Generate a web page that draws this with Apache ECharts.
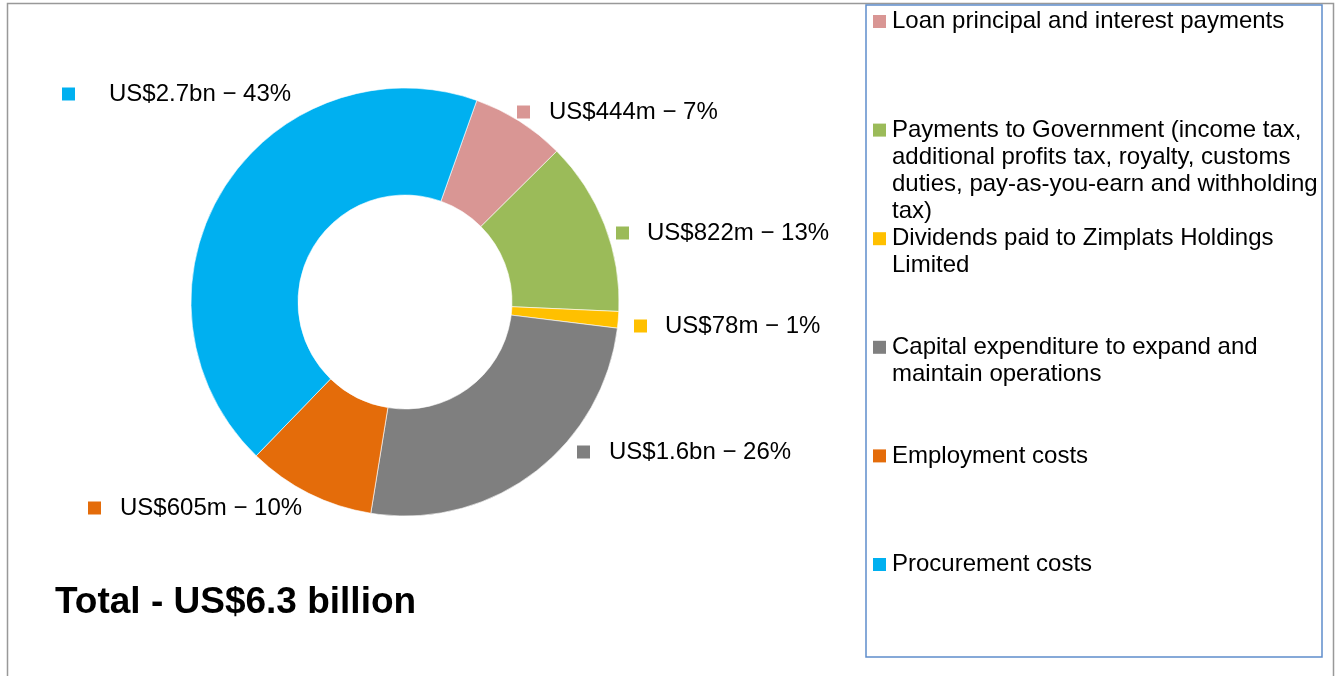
<!DOCTYPE html>
<html>
<head>
<meta charset="utf-8">
<script src="https://cdn.jsdelivr.net/npm/echarts@6/dist/echarts.min.js"></script>
<style>
html,body{margin:0;padding:0;background:#fff;}
#chart{width:1340px;height:676px;}
</style>
</head>
<body>
<div id="chart"></div>
<script>
// ---- data ----
var categories = [
  "Loan principal and interest payments",
  "Payments to Government (income tax, additional profits tax, royalty, customs duties, pay-as-you-earn and withholding tax)",
  "Dividends paid to Zimplats Holdings Limited",
  "Capital expenditure to expand and maintain operations",
  "Employment costs",
  "Procurement costs"
];
var valuesMillions = [444, 822, 78, 1600, 605, 2700];
var legendLines = [
  ["Loan principal and interest payments"],
  ["Payments to Government (income tax,", "additional profits tax, royalty, customs", "duties, pay-as-you-earn and withholding", "tax)"],
  ["Dividends paid to Zimplats Holdings", "Limited"],
  ["Capital expenditure to expand and", "maintain operations"],
  ["Employment costs"],
  ["Procurement costs"]
];
var totalText = "Total - US$6.3 billion";

// ---- style / layout ----
var colors = ["#D99694", "#9BBB59", "#FFC000", "#7F7F7F", "#E46C0A", "#00B0F0"];
var FONT = "'Liberation Sans', Arial, sans-serif";
var labelAnchors = [[517, 112], [616, 233], [634, 326], [577, 452], [88, 508], [62, 94]];
var labelGaps = [19, 18, 18, 19, 19, 34];
var legendTop0 = 8, legendStep = 108.6;

function fmtAmount(v) {
  return v >= 1000 ? "US$" + (v / 1000).toFixed(1) + "bn" : "US$" + v + "m";
}

var labelRich = { t: { fontSize: 24, fontFamily: FONT, color: "#000", lineHeight: 27 } };
colors.forEach(function (c, i) {
  labelRich["sq" + i] = { width: 13, height: 13, backgroundColor: c };
  labelRich["g" + i] = { width: labelGaps[i], height: 13 };
});

var legends = categories.map(function (name, i) {
  var rich = {
    sq: { width: 13, height: 13, backgroundColor: colors[i] },
    g: { width: 6, height: 13 },
    ind: { width: 19, height: 13 },
    t: { fontSize: 24, fontFamily: FONT, color: "#000", lineHeight: 27 }
  };
  return {
    data: [name],
    orient: "vertical",
    left: 868,
    top: legendTop0 + i * legendStep,
    padding: 0,
    icon: "none",
    itemWidth: 0,
    itemHeight: 13,
    selectedMode: false,
    textStyle: { fontSize: 24, fontFamily: FONT, color: "#000", lineHeight: 27, rich: rich },
    formatter: function () {
      return legendLines[i].map(function (ln, k) {
        return (k === 0 ? "{sq|}{g|}" : "{ind|}") + "{t|" + ln + "}";
      }).join("\n");
    }
  };
});

var chart = echarts.init(document.getElementById("chart"), null, { renderer: "canvas" });
chart.setOption({
  animation: false,
  color: colors,
  title: {
    text: totalText,
    left: 55,
    top: 582,
    padding: 0,
    textStyle: { fontSize: 37, fontWeight: "bold", fontFamily: FONT, color: "#000", lineHeight: 42 }
  },
  legend: legends,
  graphic: [
    { type: "rect", silent: true, z: -1, shape: { x: 7.5, y: 3.5, width: 1326, height: 700 },
      style: { fill: "none", stroke: "#999999", lineWidth: 1.5 } },
    { type: "rect", silent: true, z: -1, shape: { x: 866, y: 5, width: 456, height: 652 },
      style: { fill: "none", stroke: "#5F8DCB", lineWidth: 1.5 } }
  ],
  series: [{
    type: "pie",
    center: [405, 302],
    radius: [107, 214],
    startAngle: 70.4,
    clockwise: true,
    avoidLabelOverlap: false,
    emphasis: { scale: false },
    itemStyle: { borderColor: "#ffffff", borderWidth: 0.6 },
    label: {
      show: true,
      position: "outside",
      formatter: function (p) {
        return "{sq" + p.dataIndex + "|}{g" + p.dataIndex + "|}{t|" + fmtAmount(p.value) + " \u2212 " + Math.round(p.percent) + "%}";
      },
      rich: labelRich
    },
    labelLine: { show: false },
    labelLayout: function (p) {
      var a = labelAnchors[p.dataIndex];
      return { x: a[0], y: a[1], align: "left", verticalAlign: "middle" };
    },
    data: categories.map(function (n, i) { return { name: n, value: valuesMillions[i] }; })
  }]
});
</script>
</body>
</html>
